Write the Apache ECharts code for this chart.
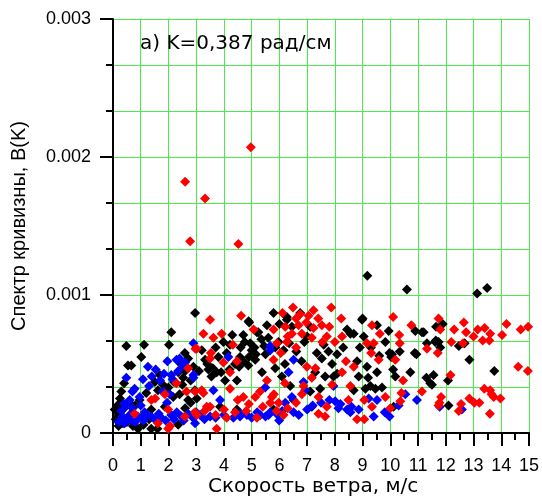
<!DOCTYPE html>
<html>
<head>
<meta charset="utf-8">
<script src="https://cdn.jsdelivr.net/npm/echarts@6.0.0/dist/echarts.min.js"></script>
<style>
  html, body { margin: 0; padding: 0; background: #fff; }
  #chart { width: 542px; height: 501px; }
</style>
</head>
<body>
<div id="chart"></div>
<script>
// Wind speed (m/s) vs curvature spectrum B(K)
const blackPoints = [
  [13.13, 0.00101], [13.49, 0.00105], [10.6, 0.00104], [9.17, 0.00114],
  [11.89, 0.00079], [11.65, 0.00077], [11.64, 0.00067], [11.8, 0.00062],
  [12.47, 0.00063], [12.68, 0.00065], [12.85, 0.00053], [13.75, 0.00045],
  [11.56, 0.00042], [11.5, 0.00035], [12.08, 0.00038], [12.1, 0.0002],
  [9.0, 0.00083], [9.94, 0.00074], [10.9, 0.00074], [11.14, 0.00073],
  [9.82, 0.00066], [10.34, 0.00059], [9.97, 0.00058], [10.88, 0.00058],
  [10.03, 0.00055], [10.1, 0.00046], [10.72, 0.00044], [11.3, 0.0004],
  [11.74, 0.00066], [9.16, 0.00048], [9.1, 0.00032], [9.46, 0.00032],
  [9.7, 0.00033], [8.68, 0.00031], [8.86, 0.00041], [9.52, 0.00044],
  [9.04, 0.0007], [8.56, 0.00072], [8.8, 0.00052], [10.12, 0.00019],
  [11.2, 0.00073], [11.32, 0.00065], [11.62, 0.00066], [10.94, 0.00057],
  [11.44, 0.00036], [10.06, 0.00057], [10.18, 0.00041], [9.28, 0.00034],
  [8.98, 0.00082], [9.52, 0.00078], [8.68, 0.00072], [9.3, 0.00062],
  [9.6, 0.00056], [8.9, 0.00062], [9.2, 0.0004],
  [6.75, 0.00087], [7.11, 0.00077], [7.53, 0.00054], [7.77, 0.00059],
  [7.95, 0.00041], [7.65, 0.00041], [7.47, 0.00032], [7.17, 0.00019],
  [5.79, 0.00087], [6.27, 0.00084], [5.97, 0.00066], [6.15, 0.0006],
  [6.61, 0.00059], [7.35, 0.00058], [8.08, 0.00057], [7.29, 0.00044],
  [7.11, 0.0003], [6.39, 0.00034], [6.09, 0.00041], [8.44, 0.00075],
  [6.51, 0.00024], [8.08, 0.00043], [6.0, 0.00079], [6.45, 0.00077],
  [5.6, 0.00069], [5.85, 0.00062], [6.35, 0.00065], [6.9, 0.00066],
  [7.6, 0.00064], [7.9, 0.0005], [8.3, 0.00062], [6.8, 0.00052],
  [5.5, 0.00057], [6.2, 0.0005], [7.0, 0.0007],
  [2.96, 0.00087], [4.91, 0.0008], [5.55, 0.00078], [3.98, 0.00066],
  [4.7, 0.00071], [5.24, 0.00073], [5.0, 0.0006], [5.13, 0.00053],
  [4.88, 0.00049], [4.58, 0.00055], [3.32, 0.00053], [3.44, 0.00046],
  [3.74, 0.00044], [4.04, 0.00038], [4.47, 0.00038], [5.37, 0.00044],
  [3.2, 0.0006], [3.02, 0.00025], [3.86, 0.00019], [4.47, 0.00017],
  [5.79, 0.00017], [4.22, 0.00064], [5.85, 0.00047], [4.89, 0.00081],
  [5.19, 0.00073], [6.27, 0.00082],
  [4.6, 0.00062], [4.75, 0.00066], [4.95, 0.00065], [5.1, 0.00062],
  [5.15, 0.00057], [4.9, 0.00055], [4.7, 0.00052], [4.55, 0.00048],
  [4.4, 0.0005], [4.2, 0.00046], [3.9, 0.00044], [3.6, 0.00047],
  [3.4, 0.0005], [3.55, 0.00041], [5.35, 0.00068], [5.45, 0.00063],
  [4.1, 0.00058], [3.8, 0.00055], [3.1, 0.00045], [4.3, 0.00071],
  [3.7, 0.00062],
  [2.1, 0.00073], [1.12, 0.00064], [2.02, 0.00064], [0.48, 0.00063],
  [1.02, 0.00055], [0.54, 0.00049], [0.66, 0.00049], [0.4, 0.00036],
  [0.3, 0.0003], [0.16, 0.0002], [2.59, 0.00058], [2.35, 0.00044],
  [2.53, 0.0004], [1.51, 0.00037], [1.62, 0.00031], [1.2, 0.00029],
  [0.96, 0.00024], [0.6, 0.00022], [2.17, 0.00026], [2.95, 0.00031],
  [2.71, 0.00024], [1.38, 0.00017], [1.87, 0.00019], [0.18, 0.00012],
  [0.36, 0.00007], [0.9, 0.00003], [1.38, 0.00003], [0.72, 0.00005],
  [2.35, 0.00006], [0.06, 0.00017], [2.71, 0.00054], [1.69, 0.00042],
  [2.45, 0.0005], [2.6, 0.00045], [2.8, 0.00038], [2.5, 0.00035],
  [2.9, 0.00048], [2.2, 0.00037], [2.0, 0.00033], [1.8, 0.00035],
  [2.4, 0.00028], [2.8, 0.00022], [2.6, 0.00018], [2.9, 0.00014],
  [0.1, 0.0001], [0.2, 0.00005], [0.3, 0.00012], [0.5, 0.00008],
  [0.7, 0.00015], [0.8, 0.0002], [1.1, 0.00006], [1.3, 0.0001],
  [1.6, 0.00003], [0.4, 0.00018], [0.25, 0.00025], [0.15, 0.00015]
];

const redPoints = [
  [2.6, 0.00182], [3.32, 0.0017], [4.97, 0.00207], [2.78, 0.00139], [4.52, 0.00137],
  [11.74, 0.00083], [11.8, 0.00075], [12.3, 0.00075], [12.65, 0.0008],
  [12.73, 0.00073], [13.15, 0.00075], [13.4, 0.00076], [13.0, 0.0007],
  [13.6, 0.00072], [13.33, 0.00067], [13.57, 0.00067], [14.03, 0.00071],
  [14.19, 0.00079], [14.7, 0.00075], [14.97, 0.00077], [12.2, 0.00066],
  [12.62, 0.00065], [11.71, 0.00058], [14.61, 0.00048], [14.96, 0.00045],
  [12.17, 0.00042], [13.39, 0.00032], [13.6, 0.00031], [13.65, 0.00028],
  [13.73, 0.00026], [13.97, 0.00025], [12.85, 0.00025], [13.03, 0.00022],
  [13.21, 0.00022], [11.83, 0.00026], [11.77, 0.00022], [12.55, 0.00021],
  [12.47, 0.00016], [13.59, 0.00014],
  [10.1, 0.00084], [10.76, 0.00078], [9.34, 0.00078], [9.62, 0.00072],
  [10.32, 0.00071], [10.34, 0.00065], [9.16, 0.00065], [9.4, 0.00065],
  [9.31, 0.00058], [11.32, 0.00061], [9.58, 0.00053], [8.68, 0.00048],
  [10.18, 0.00053], [10.46, 0.00038], [11.14, 0.0003], [10.4, 0.00029],
  [10.36, 0.00023], [9.82, 0.00026], [9.06, 0.00024], [9.34, 0.00019],
  [8.8, 0.0001], [9.06, 0.0001], [10.0, 0.00018], [11.74, 0.0002],
  [6.49, 0.00091], [7.23, 0.00089], [7.87, 0.00091], [6.11, 0.00087],
  [6.75, 0.00086], [8.23, 0.00083], [5.79, 0.00075], [6.21, 0.00077],
  [6.69, 0.00078], [6.97, 0.0008], [7.23, 0.00076], [7.53, 0.00078],
  [7.71, 0.0007], [6.45, 0.00072], [6.81, 0.00072], [7.17, 0.00069],
  [5.91, 0.00065], [6.27, 0.00066], [8.26, 0.0007], [5.79, 0.00053],
  [6.99, 0.00048], [7.17, 0.0004], [6.87, 0.00034], [5.73, 0.00026],
  [5.97, 0.00022], [6.15, 0.00013], [6.81, 0.00028], [7.41, 0.00026],
  [7.71, 0.00019], [7.65, 0.00012], [7.41, 0.00014], [8.49, 0.00024],
  [8.26, 0.00044], [8.56, 0.00034], [6.6, 0.00083], [7.05, 0.00085],
  [7.4, 0.00083], [6.3, 0.0007], [7.8, 0.00077], [6.05, 0.00058],
  [7.55, 0.00066], [8.0, 0.00066], [6.6, 0.00062], [7.3, 0.00047],
  [8.4, 0.00052], [6.2, 0.00036], [7.9, 0.00035],
  [3.5, 0.00082], [4.62, 0.00085], [3.26, 0.00072], [3.92, 0.00072],
  [3.62, 0.00069], [4.32, 0.00064], [3.02, 0.00061], [3.53, 0.00058],
  [3.98, 0.00051], [4.47, 0.00052], [4.22, 0.00044], [5.55, 0.00038],
  [2.96, 0.0003], [3.26, 0.00029], [4.22, 0.00032], [4.7, 0.00026],
  [5.13, 0.00026], [3.38, 0.00019], [4.1, 0.00011], [3.74, 0.00003],
  [5.19, 0.00011], [3.02, 0.00013], [5.67, 0.00022], [5.07, 0.00075],
  [3.3, 0.00016], [3.7, 0.00013], [4.0, 0.00017], [4.4, 0.00015],
  [4.8, 0.00016], [5.4, 0.00019], [5.9, 0.00016], [6.3, 0.00018],
  [4.9, 0.00021], [4.5, 0.00024], [5.3, 0.0003], [5.8, 0.00028], [6.6, 0.00022],
  [2.71, 0.00047], [2.97, 0.00061], [2.29, 0.00036], [1.38, 0.00024],
  [1.87, 0.00028], [0.78, 0.00014], [1.62, 0.00007], [1.99, 0.00003],
  [1.99, 0.00017], [2.59, 0.00012], [2.65, 0.0003], [1.52, 0.00025],
  [2.06, 0.00005], [3.5, 0.00054], [3.2, 0.00031], [3.5, 0.00019], [2.96, 0.00015]
];

const bluePoints = [
  [11.78, 0.00019], [12.58, 0.00017],
  [10.96, 0.00024], [10.54, 0.00028], [10.3, 0.0002], [9.8, 0.00015],
  [9.97, 0.00012], [9.4, 0.00012], [9.22, 0.00025], [8.86, 0.00017],
  [8.56, 0.00015], [9.52, 0.00024],
  [6.51, 0.00053], [6.33, 0.00044], [6.87, 0.00037], [6.93, 0.00031],
  [7.95, 0.00034], [6.45, 0.00026], [6.21, 0.00022], [6.51, 0.00015],
  [5.99, 0.00009], [8.01, 0.00023], [8.13, 0.00018], [8.44, 0.00017],
  [5.67, 0.00063], [5.67, 0.00015],
  [2.9, 0.00065], [4.16, 0.00055], [5.67, 0.0006], [2.9, 0.00042],
  [3.62, 0.00031], [5.49, 0.00033], [3.86, 0.00024], [3.14, 0.00013],
  [3.5, 0.00012], [4.34, 0.00011], [4.83, 0.00013], [5.31, 0.00013],
  [5.61, 0.00013], [4.58, 0.00012], [2.9, 0.00011], [2.96, 0.00007],
  [3.0, 0.00015], [3.3, 0.0001], [3.7, 0.00011], [4.0, 0.00013],
  [4.6, 0.00014], [5.0, 0.00011], [5.2, 0.00015], [5.5, 0.00012],
  [5.9, 0.00014], [6.1, 0.00016], [6.7, 0.00013], [7.0, 0.00017],
  [7.2, 0.0002], [7.5, 0.00022], [7.8, 0.00024], [8.2, 0.00021], [8.6, 0.00019],
  [1.96, 0.00052], [2.29, 0.00053], [2.4, 0.00054], [1.26, 0.00048],
  [1.54, 0.00046], [0.48, 0.0004], [1.08, 0.00039], [1.84, 0.00043],
  [2.1, 0.00042], [0.78, 0.00032], [0.96, 0.00026], [0.6, 0.00024],
  [1.14, 0.00015], [1.8, 0.0003], [2.05, 0.00028],
  [0.42, 0.00007], [0.66, 0.00009], [1.02, 0.00011], [1.38, 0.00012],
  [1.74, 0.00011], [2.1, 0.00013], [2.47, 0.00012], [2.71, 0.00014], [2.89, 0.00011],
  [0.2, 0.00008], [0.35, 0.00012], [0.5, 0.0001], [0.6, 0.00013],
  [0.8, 0.00008], [0.9, 0.00012], [1.1, 0.00009], [1.2, 0.00013],
  [1.5, 0.0001], [1.65, 0.00014], [1.9, 0.00009], [2.2, 0.0001],
  [2.3, 0.00015], [2.55, 0.00009], [0.3, 0.00016], [0.45, 0.0002], [0.7, 0.00018],
  [1.0, 0.0002], [1.3, 0.00034], [1.4, 0.00041], [0.7, 0.0003],
  [2.5, 0.00049], [2.6, 0.00051], [2.35, 0.00045], [1.7, 0.00038],
  [2.15, 0.00039], [2.9, 0.0004], [1.95, 0.00022], [0.4, 0.00021]
];

const titleText = "а) K=0,387 рад/см";
const xName = "Скорость ветра, м/с";
const yName = "Спектр кривизны, B(K)";

const gridGreen = "#4ceb4c";
const arial = "Arial, 'Liberation Sans', sans-serif";
const wide = "'DejaVu Sans', Arial, sans-serif";

function scatterSeries(name, points, color) {
  return {
    name,
    type: "scatter",
    data: points,
    symbol: "diamond",
    symbolSize: [10, 10],
    itemStyle: { color, opacity: 1 },
    emphasis: { disabled: true },
    silent: true,
  };
}

const chart = echarts.init(document.getElementById("chart"), null, { renderer: "canvas" });

chart.setOption({
  animation: false,
  backgroundColor: "#fff",
  title: {
    text: titleText,
    left: 140,
    top: 34,
    padding: 0,
    textStyle: { fontFamily: wide, fontSize: 20, fontWeight: "normal", color: "#000" },
  },
  // x axis title drawn as plain text so the grid is not shrunk to fit it
  graphic: [
    {
      type: "text",
      left: 208,
      top: 477,
      style: { text: xName, font: "20px 'DejaVu Sans', Arial, sans-serif", fill: "#000" },
    },
  ],
  grid: { left: 113, top: 19, width: 416, height: 414 },
  xAxis: {
    type: "value",
    min: 0,
    max: 15,
    interval: 1,
    axisLine: { onZero: false, lineStyle: { color: "#000", width: 2 } },
    axisTick: { length: 13, lineStyle: { color: "#000", width: 2 } },
    minorTick: { show: true, splitNumber: 2, length: 7, lineStyle: { color: "#000", width: 2 } },
    axisLabel: { fontFamily: arial, fontSize: 18, color: "#000", margin: 24 },
    splitLine: { show: true, lineStyle: { color: gridGreen, width: 1 } },
  },
  yAxis: {
    type: "value",
    min: 0,
    max: 0.003,
    interval: 0.001,
    name: yName,
    nameLocation: "middle",
    nameGap: 84,
    nameTextStyle: { fontFamily: arial, fontSize: 20, color: "#000" },
    axisLine: { onZero: false, lineStyle: { color: "#000", width: 2 } },
    axisTick: { length: 13, lineStyle: { color: "#000", width: 2 } },
    minorTick: { show: true, splitNumber: 3, length: 7, lineStyle: { color: "#000", width: 2 } },
    axisLabel: {
      fontFamily: arial,
      fontSize: 18,
      color: "#000",
      margin: 22,
      formatter: (v) => (v === 0 ? "0" : v.toFixed(3)),
    },
    splitLine: { show: true, lineStyle: { color: gridGreen, width: 1 } },
    minorSplitLine: { show: true, lineStyle: { color: gridGreen, width: 1 } },
  },
  series: [
    scatterSeries("black", blackPoints, "#000000"),
    scatterSeries("blue", bluePoints, "#0000ff"),
    scatterSeries("red", redPoints, "#ff0000"),
  ],
});
</script>
</body>
</html>
